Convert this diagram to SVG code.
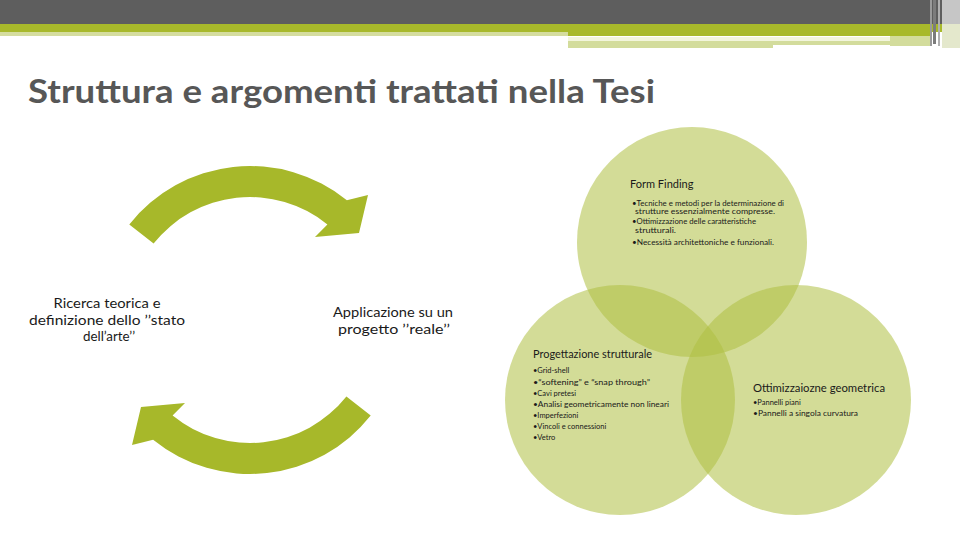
<svg xmlns="http://www.w3.org/2000/svg" width="960" height="540" viewBox="0 0 960 540">
<style>
.title{font-family:Lato,"Liberation Sans",sans-serif;font-size:32px;font-weight:bold;fill:#575757}
.lbl{font-family:Lato,"Liberation Sans",sans-serif;font-size:14px;fill:#1a1a1a;text-anchor:middle}
.ch{font-family:Lato,"Liberation Sans",sans-serif;font-size:11px;fill:#1a1a1a}
.bl{font-family:Lato,"Liberation Sans",sans-serif;font-size:7.5px;fill:#1a1a1a}
.bs{font-family:Lato,"Liberation Sans",sans-serif;font-size:7px;fill:#1a1a1a}
.circ{fill:#aec042;fill-opacity:0.55}
.arrow{fill:#a7b82a}
</style>
<rect width="960" height="540" fill="#ffffff"/>
<g id="header">
<rect x="0" y="0" width="960" height="24" fill="#5e5e5e"/>
<rect x="0" y="24" width="960" height="8" fill="#a8b92b"/>
<rect x="0" y="32" width="568" height="4" fill="#d5dd9f"/>
<rect x="568" y="32" width="362" height="4" fill="#a8b92b"/>
<rect x="568" y="37" width="322" height="4" fill="#f2f5dc"/>
<rect x="568" y="41" width="205" height="7" fill="#d3dc9c"/>
<rect x="773" y="41" width="117" height="4" fill="#d3dc9c"/>
<rect x="890" y="36" width="40" height="10" fill="#d3dc9c"/>
<rect x="930" y="0" width="2" height="46" fill="#9a9a9a"/>
<rect x="933" y="0" width="3" height="44" fill="#7c7c7c"/>
<rect x="938" y="0" width="2" height="46" fill="#b0b0b0"/>
<rect x="942" y="0" width="18" height="24" fill="#c6c6c6"/>
<rect x="942" y="24" width="18" height="24" fill="#e4e8cc"/>
</g>
<text class="title" x="28" y="103" textLength="627" lengthAdjust="spacingAndGlyphs">Struttura e argomenti trattati nella Tesi</text>
<g id="connectors">
<path class="arrow" d="M 129.3,224.4 A 154 154 0 0 1 346.9,200.3 L 368,195 L 359,233 L 315,237 L 327.4,224.4 A 123 123 0 0 0 153.6,243.6 Z"/>
<path class="arrow" d="M 370.7,415.6 A 154 154 0 0 1 153.1,439.7 L 132,445 L 141,407 L 185,403 L 172.6,415.6 A 123 123 0 0 0 346.4,396.4 Z"/>
</g>
<g id="node-ricerca">
<text class="lbl" x="107" y="308" textLength="107" lengthAdjust="spacingAndGlyphs">Ricerca teorica e</text>
<text class="lbl" x="107" y="325" textLength="156" lengthAdjust="spacingAndGlyphs">definizione dello ’’stato</text>
<text class="lbl" x="109" y="341" textLength="52" lengthAdjust="spacingAndGlyphs">dell’arte’’</text>
</g>
<g id="node-applicazione">
<text class="lbl" x="393" y="317" textLength="120" lengthAdjust="spacingAndGlyphs">Applicazione su un</text>
<text class="lbl" x="394" y="334" textLength="112" lengthAdjust="spacingAndGlyphs">progetto ’’reale’’</text>
</g>
<g id="node-form-finding">
<circle class="circ" cx="692" cy="242" r="115"/>
</g>
<g id="node-progettazione">
<circle class="circ" cx="620" cy="400" r="115"/>
</g>
<g id="node-ottimizzazione">
<circle class="circ" cx="796" cy="400" r="115"/>
</g>
<g id="labels-form-finding">
<text class="ch" x="630" y="188">Form Finding</text>
<text class="bs" x="632" y="205.5" textLength="152" lengthAdjust="spacingAndGlyphs">•Tecniche e metodi per la determinazione di</text>
<text class="bs" x="635" y="214" textLength="140" lengthAdjust="spacingAndGlyphs">strutture essenzialmente compresse.</text>
<text class="bs" x="632" y="224" textLength="124" lengthAdjust="spacingAndGlyphs">•Ottimizzazione delle caratteristiche</text>
<text class="bs" x="635" y="232.5" textLength="41" lengthAdjust="spacingAndGlyphs">strutturali.</text>
<text class="bs" x="632" y="245" textLength="142" lengthAdjust="spacingAndGlyphs">•Necessità architettoniche e funzionali.</text>
</g>
<g id="labels-progettazione">
<text class="ch" x="533" y="358" textLength="119" lengthAdjust="spacingAndGlyphs">Progettazione strutturale</text>
<text class="bl" x="533" y="373">•Grid-shell</text>
<text class="bl" x="533" y="385" textLength="117" lengthAdjust="spacingAndGlyphs">•“softening” e “snap through”</text>
<text class="bl" x="533" y="396">•Cavi pretesi</text>
<text class="bl" x="533" y="407" textLength="136" lengthAdjust="spacingAndGlyphs">•Analisi geometricamente non lineari</text>
<text class="bl" x="533" y="418">•Imperfezioni</text>
<text class="bl" x="533" y="429">•Vincoli e connessioni</text>
<text class="bl" x="533" y="440">•Vetro</text>
</g>
<g id="labels-ottimizzazione">
<text class="ch" x="753" y="392" textLength="132" lengthAdjust="spacingAndGlyphs">Ottimizzaiozne geometrica</text>
<text class="bl" x="753" y="405">•Pannelli piani</text>
<text class="bl" x="753" y="415.5" textLength="105" lengthAdjust="spacingAndGlyphs">•Pannelli a singola curvatura</text>
</g>
</svg>
